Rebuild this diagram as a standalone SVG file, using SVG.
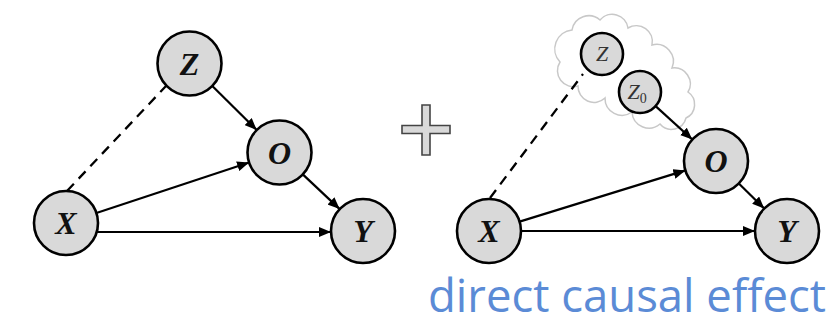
<svg xmlns="http://www.w3.org/2000/svg" width="834" height="325" viewBox="0 0 834 325">
  <style>
    .node { fill: #d9d9d9; stroke: #000; stroke-width: 2.6; }
    .lbl { font-family: "Liberation Serif", "DejaVu Serif", serif; font-weight: bold; font-style: italic; font-size: 32px; fill: #111; text-anchor: middle; }
    .lbl2 { font-family: "Liberation Serif", "DejaVu Serif", serif; font-style: italic; font-size: 22px; fill: #333; text-anchor: middle; }
    .edge { stroke: #000; stroke-width: 2.2; fill: none; marker-end: url(#arr); }
    .dash { stroke: #000; stroke-width: 2.3; fill: none; stroke-dasharray: 10 7; }
    .cap { font-family: "Open Sans", "Noto Sans", "Liberation Sans", sans-serif; font-size: 45px; fill: #5b8bd6; }
  </style>
  <defs>
    <marker id="arr" viewBox="0 0 12 10" refX="12" refY="5" markerWidth="12" markerHeight="10" markerUnits="userSpaceOnUse" orient="auto">
      <path d="M0,0 L12,5 L0,10 Z" fill="#000"/>
    </marker>
  </defs>
  <rect width="834" height="325" fill="#fff"/>

  <!-- cloud -->
  <g id="cloud">
    <path d="M572,30 A17,17 0 0 1 600,20 A16,16 0 0 1 628,28 A16,16 0 0 1 652,45 A17,17 0 0 1 672,68 A16,16 0 0 1 688,92 A15,15 0 0 1 686,118 A15,15 0 0 1 660,124 A17,17 0 0 1 632,112 A17,17 0 0 1 605,98 A16,16 0 0 1 578,86 A16,16 0 0 1 560,62 A19,19 0 0 1 572,30 Z" fill="#fff" stroke="#c8c8c8" stroke-width="1.5"/>
  </g>

  <g id="connectors">
    <!-- left graph -->
    <line class="dash" x1="67" y1="191" x2="166" y2="86"/>
    <line class="edge" x1="212.3" y1="86" x2="256.7" y2="130"/>
    <line class="edge" x1="96.4" y1="213" x2="249.1" y2="162.5"/>
    <line class="edge" x1="96.7" y1="232" x2="331" y2="232"/>
    <line class="edge" x1="302.8" y1="174.4" x2="339.7" y2="209.1"/>
    <!-- right graph -->
    <line class="dash" x1="490" y1="198" x2="583" y2="74"/>
    <line class="edge" x1="655.6" y1="106.1" x2="692.3" y2="139.5"/>
    <line class="edge" x1="519.6" y1="221.6" x2="685.4" y2="170.4"/>
    <line class="edge" x1="521" y1="231" x2="755" y2="231"/>
    <line class="edge" x1="738.8" y1="183.5" x2="764.2" y2="208.5"/>
  </g>

  <!-- left graph nodes -->
  <g id="L_Z"><circle class="node" cx="189.5" cy="63.5" r="32"/><text class="lbl" x="189.5" y="74.5">Z</text></g>
  <g id="L_O"><circle class="node" cx="279.5" cy="152.5" r="32"/><text class="lbl" x="279.5" y="163.5">O</text></g>
  <g id="L_X"><circle class="node" cx="66" cy="223" r="32"/><text class="lbl" x="66" y="234">X</text></g>
  <g id="L_Y"><circle class="node" cx="363" cy="231" r="32"/><text class="lbl" x="363" y="242">Y</text></g>

  <!-- plus -->
  <g id="plus">
    <path d="M422,105 H430 V125.5 H450 V133.5 H430 V155 H422 V133.5 H402 V125.5 H422 Z" fill="#d9d9d9" stroke="#444" stroke-width="1.6"/>
  </g>

  <!-- right graph nodes -->
  <g id="R_Z"><circle class="node" cx="602" cy="54" r="21"/><text class="lbl2" x="602" y="61">Z</text></g>
  <g id="R_Z0"><circle class="node" cx="640" cy="92" r="21"/><text class="lbl2" x="637" y="99">Z<tspan font-size="14" font-style="normal" dy="4">0</tspan></text></g>
  <g id="R_O"><circle class="node" cx="716" cy="161" r="32"/><text class="lbl" x="716" y="172">O</text></g>
  <g id="R_X"><circle class="node" cx="489" cy="231" r="32"/><text class="lbl" x="489" y="242">X</text></g>
  <g id="R_Y"><circle class="node" cx="787" cy="231" r="32"/><text class="lbl" x="787" y="242">Y</text></g>

  <g id="caption">
    <text class="cap" x="428" y="312" textLength="398" lengthAdjust="spacingAndGlyphs">direct causal effect</text>
  </g>
</svg>
